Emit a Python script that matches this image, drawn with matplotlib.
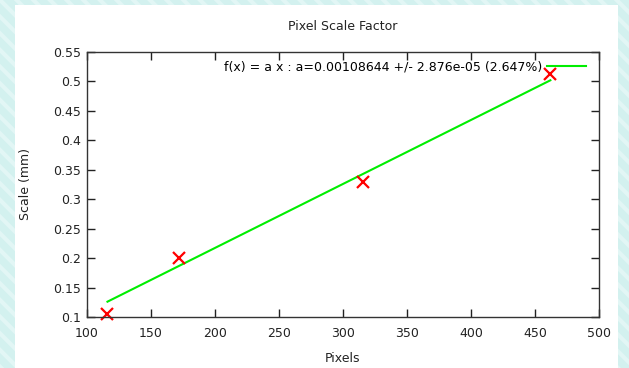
import matplotlib
matplotlib.use("Agg")
import matplotlib.pyplot as plt
from matplotlib.patches import Rectangle
import numpy as np

# Data
pixels = [116, 172, 316, 462]
scale_mm = [0.105, 0.200, 0.329, 0.512]
fit_a = 0.00108644
fit_label = "f(x) = a x : a=0.00108644 +/- 2.876e-05 (2.647%)"
x_ticks = [100, 150, 200, 250, 300, 350, 400, 450, 500]
y_ticks = [0.1, 0.15, 0.2, 0.25, 0.3, 0.35, 0.4, 0.45, 0.5, 0.55]
y_tick_labels = ["0.1", "0.15", "0.2", "0.25", "0.3", "0.35", "0.4", "0.45", "0.5", "0.55"]

W, H = 629, 368
plt.rcParams["hatch.linewidth"] = 3
plt.rcParams["hatch.color"] = "#e2f6f5"
fig = plt.figure(figsize=(W / 100, H / 100), dpi=100)
fig.patch.set_facecolor("#d3f1ef")

# striped background
bg = Rectangle((0, 0), 1, 1, transform=fig.transFigure, facecolor="#d3f1ef",
               edgecolor="#e2f6f5", hatch="\\\\", linewidth=0, zorder=-10)
fig.patches.append(bg)
# white panel
panel = Rectangle((15 / W, 0), (618 - 15) / W, (H - 5) / H, transform=fig.transFigure,
                  facecolor="white", edgecolor="none", zorder=-5)
fig.patches.append(panel)

ax = fig.add_axes([87 / W, 1 - 317 / H, (599 - 87) / W, (317 - 52) / H])
ax.set_facecolor("white")

xf = np.array([min(pixels), max(pixels)])
ax.plot(xf, fit_a * xf, color="#00ee00", lw=1.5, label=fit_label)
ax.plot(pixels, scale_mm, linestyle="none", marker="x", color="#ff0000",
        markersize=9, markeredgewidth=1.6, clip_on=False)

ax.set_xlim(100, 500)
ax.set_ylim(0.1, 0.55)
ax.set_xticks(x_ticks)
ax.set_yticks(y_ticks)
ax.set_yticklabels(y_tick_labels)
ax.tick_params(direction="in", length=6, width=1, top=True, right=True,
               labelsize=9, colors="#222222", pad=4)
ax.tick_params(axis="x", pad=7)
for s in ax.spines.values():
    s.set_color("#333333")
    s.set_linewidth(1)

leg = ax.legend(loc="upper right", markerfirst=False, frameon=False, fontsize=9,
                handlelength=3.1, handletextpad=0.45, borderaxespad=0.3,
                bbox_to_anchor=(0.992, 1.0))

fig.text(343 / W, 1 - 27 / H, "Pixel Scale Factor", ha="center", va="center",
         fontsize=9, color="#222222")
fig.text(343 / W, 1 - 358 / H, "Pixels", ha="center", va="center",
         fontsize=9, color="#222222")
fig.text(25 / W, 1 - 184 / H, "Scale (mm)", ha="center", va="center",
         rotation=90, fontsize=9, color="#222222")

fig.savefig("out.png", dpi=100, facecolor=fig.get_facecolor())
